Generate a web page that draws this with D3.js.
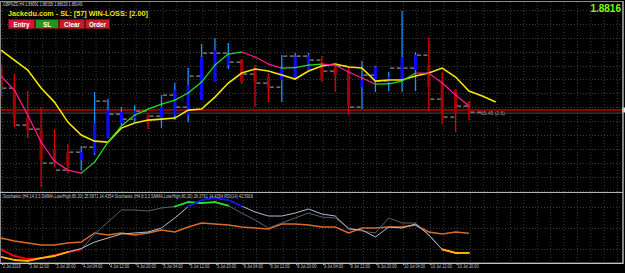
<!doctype html>
<html>
<head>
<meta charset="utf-8">
<script src="https://cdn.jsdelivr.net/npm/d3@7"></script>
<style>
  body { margin: 0; background: #000; }
  svg text { font-family: "Liberation Sans", Arial, sans-serif; }
</style>
</head>
<body>
<script>
// GBPNZD H4 candles
var high  = [1.90056,1.89696,1.89084,1.88472,1.87716,1.87176,1.87104,1.89048,1.88796,1.88508,1.8858,1.88256,1.8894,1.89372,1.89912,1.90776,1.90992,1.90812,1.90236,1.9002,1.89732,1.9038,1.90452,1.90452,1.90344,1.9002,1.89948,1.90164,1.89984,1.89768,1.91964,1.90488,1.91028,1.89768,1.89156,1.88724];
var low   = [1.88868,1.87788,1.87392,1.85628,1.86348,1.86132,1.8624,1.8678,1.87392,1.8786,1.87968,1.87716,1.87752,1.8804,1.87968,1.8876,1.89408,1.89876,1.89336,1.88508,1.88688,1.88688,1.8948,1.8984,1.89408,1.89048,1.8822,1.88436,1.89048,1.89084,1.89048,1.89084,1.88364,1.87896,1.87608,1.8804];
var open  = [1.89984,1.8912,1.88112,1.8768,1.8696,1.86888,1.866,1.86852,1.87428,1.87932,1.88112,1.8822,1.88112,1.8822,1.8822,1.8876,1.89408,1.9002,1.902,1.89912,1.89624,1.8948,1.89552,1.8984,1.90128,1.89948,1.8984,1.89228,1.89408,1.89408,1.8948,1.8984,1.9002,1.8948,1.8912,1.88688];
var close = [1.89192,1.88112,1.8768,1.866,1.86492,1.86384,1.86888,1.87932,1.884,1.88328,1.88364,1.87896,1.88508,1.8912,1.893,1.90308,1.9056,1.9038,1.89408,1.89372,1.89192,1.89912,1.90308,1.9038,1.8948,1.8966,1.8858,1.8948,1.89948,1.89588,1.90308,1.9038,1.89228,1.88292,1.88292,1.88292];
// gray "- -" marks to the right of each bar
var marks = [1.89192,1.8786,1.87716,1.86492,1.8624,1.86888,1.87068,1.88724,1.88256,1.88076,1.88364,1.88184,1.8894,1.88508,1.89624,1.90452,1.90452,1.90128,1.89696,1.89372,1.89228,1.90344,1.90344,1.902,1.89804,1.89984,1.88508,1.8966,1.89444,1.89912,1.89912,1.9038,1.88796,1.88148,1.88544,1.88328];
// moving averages (yellow one is shifted forward 2 bars)
var maSlow = [1.9056,1.902,1.8984,1.89192,1.88688,1.87968,1.875,1.87284,1.87248,1.87752,1.87932,1.8804,1.88076,1.88112,1.884,1.88436,1.88868,1.89372,1.89732,1.89876,1.89804,1.8966,1.89516,1.89804,1.89984,1.90056,1.89948,1.89912,1.89444,1.8948,1.8948,1.89624,1.89732,1.89912,1.89588,1.89084,1.88904,1.88688];
var maFast = [1.89624,1.8912,1.8822,1.87248,1.86564,1.8624,1.86132,1.86528,1.87248,1.87824,1.8822,1.88436,1.88616,1.8876,1.89012,1.89408,1.9002,1.90416,1.90488,1.90308,1.90056,1.89912,1.8993,1.9002,1.90056,1.9002,1.89768,1.89552,1.89336,1.89343,1.89444,1.89732,1.89725,1.89372,1.8894,1.88544];
var slLevel = 1.884;
var bidLevel = 1.88292;

// lower window
var rsi    = [35.7,31.4,28.6,25.7,25.7,28.6,30.0,42.9,40.0,42.9,40.0,42.9,47.1,44.3,51.4,57.1,55.7,54.3,51.4,50.0,48.6,55.7,55.7,54.3,51.4,51.4,42.9,50.0,50.0,51.4,51.4,54.3,44.3,41.4,44.3,42.6];
var stochA = [19.3,10.0,5.7,7.1,11.4,15.7,19.3,41.4,58.6,75.7,75.7,74.3,78.6,80.7,87.1,85.7,87.1,81.9,71.4,61.4,50.0,57.1,64.3,71.4,65.7,64.3,50.0,45.7,42.9,64.3,57.1,57.1,40.0,19.3,14.3,14.4];
var stochB = [8.6,4.3,2.9,7.1,10.0,15.7,20.7,30.0,35.7,41.4,42.9,44.3,50.0,64.3,80.7,90.0,92.9,90.0,81.4,72.9,67.1,67.1,71.4,77.1,70.0,67.1,48.6,47.1,37.1,51.4,50.0,55.7,40.0,19.3,14.3,14.4];
var levels = [20, 50, 80];

var timeLabels = ["2 Jul 2019","3 Jul 12:00","3 Jul 20:00","4 Jul 04:00","4 Jul 12:00","4 Jul 20:00","5 Jul 04:00","5 Jul 12:00","5 Jul 20:00","8 Jul 04:00","8 Jul 12:00","8 Jul 20:00","9 Jul 04:00","9 Jul 12:00","9 Jul 20:00","10 Jul 04:00","10 Jul 12:00","10 Jul 20:00"];
var buttons = ["Entry", "SL", "Clear", "Order"];

var W = 625, H = 273;
var svg = d3.select("body").append("svg").attr("width", W).attr("height", H)
    .style("background", "#000");

var x = d3.scaleLinear().domain([0, 46]).range([1, 1 + 13.37 * 46]);
var y = d3.scaleLinear().domain([1.85, 1.92]).range([204.6, 10]);
var sy = d3.scaleLinear().domain([0, 100]).range([263, 193]);

svg.append("clipPath").attr("id", "mainClip").append("rect")
    .attr("x", 0).attr("y", 2).attr("width", 623).attr("height", 189);

var grid = svg.append("g").attr("stroke", "#3a3a3a").attr("stroke-dasharray", "1,2");
// vertical grid
grid.selectAll("line.v").data(d3.range(0, 47)).enter().append("line")
    .attr("x1", function(k) { return x(k) + 1.5; }).attr("x2", function(k) { return x(k) + 1.5; })
    .attr("y1", 2).attr("y2", 263);
// horizontal grid, main window
grid.selectAll("line.h").data(d3.range(1.855, 1.9201, 0.005)).enter().append("line")
    .attr("x1", 1).attr("x2", 622)
    .attr("y1", function(p) { return Math.round(y(p)) + 0.5; })
    .attr("y2", function(p) { return Math.round(y(p)) + 0.5; });
// stochastic levels
grid.selectAll("line.l").data(levels).enter().append("line")
    .attr("x1", 1).attr("x2", 622)
    .attr("y1", function(v) { return Math.round(sy(v)) + 0.5; })
    .attr("y2", function(v) { return Math.round(sy(v)) + 0.5; });

var main = svg.append("g").attr("clip-path", "url(#mainClip)");

// bid line and SL line
main.append("line").attr("x1", 0).attr("x2", 623)
    .attr("y1", y(bidLevel)).attr("y2", y(bidLevel))
    .attr("stroke", "#4a4a4a").attr("stroke-width", 1);
main.append("line").attr("x1", 0).attr("x2", 623)
    .attr("y1", y(slLevel)).attr("y2", y(slLevel))
    .attr("stroke", "#c00000").attr("stroke-width", 1.5);

var bars = d3.range(high.length);
function isUp(i) { return close[i] >= open[i]; }

main.selectAll("line.wick").data(bars).enter().append("line")
    .attr("x1", function(i) { return x(i); }).attr("x2", function(i) { return x(i); })
    .attr("y1", function(i) { return y(high[i]); }).attr("y2", function(i) { return y(low[i]); })
    .attr("stroke", function(i) { return isUp(i) ? "#1e90ff" : "#e00000"; })
    .attr("stroke-width", 1.3);

main.selectAll("rect.body").data(bars).enter().append("rect")
    .attr("x", function(i) { return x(i) - 1.6; }).attr("width", 3.2)
    .attr("y", function(i) { return y(Math.max(open[i], close[i])); })
    .attr("height", function(i) { return Math.max(1, Math.abs(y(open[i]) - y(close[i]))); })
    .attr("fill", function(i) { return isUp(i) ? "#0a0aff" : "#a00000"; });

main.selectAll("line.mark").data(bars).enter().append("line")
    .attr("x1", function(i) { return x(i) + 1.5; }).attr("x2", function(i) { return x(i) + 12; })
    .attr("y1", function(i) { return y(marks[i]); }).attr("y2", function(i) { return y(marks[i]); })
    .attr("stroke", "#8c8c8c").attr("stroke-width", 1.3).attr("stroke-dasharray", "4,2.5");

// yellow MA
var lineP = d3.line().x(function(d, i) { return x(i); }).y(function(d) { return y(d); });
main.append("path").datum(maSlow).attr("d", lineP)
    .attr("fill", "none").attr("stroke", "#f2e600").attr("stroke-width", 1.6);

// fast MA, green when rising, pink when falling
main.selectAll("line.fast").data(d3.range(maFast.length - 1)).enter().append("line")
    .attr("x1", function(i) { return x(i); }).attr("x2", function(i) { return x(i + 1); })
    .attr("y1", function(i) { return y(maFast[i]); }).attr("y2", function(i) { return y(maFast[i + 1]); })
    .attr("stroke", function(i) { return maFast[i + 1] >= maFast[i] ? "#22dd22" : "#ff1a8c"; })
    .attr("stroke-width", 1.25).attr("stroke-linecap", "round");

// red line label
svg.append("text").attr("x", 479).attr("y", 114.5).attr("font-size", 4.6)
    .attr("fill", "#9a9a9a").attr("textLength", 26).attr("lengthAdjust", "spacingAndGlyphs")
    .text("-65.45 (2.5)");
svg.append("rect").attr("x", 622).attr("y", 107.5).attr("width", 3).attr("height", 5).attr("fill", "#e8e8e8");

// lower window lines
var lineS = d3.line().x(function(d, i) { return x(i); }).y(function(d) { return sy(d); });
var low2 = svg.append("g");

function stochLine(vals, base, hiCol, loCol) {
  low2.append("path").datum(vals).attr("d", lineS)
      .attr("fill", "none").attr("stroke", base).attr("stroke-width", 1);
  low2.selectAll(null).data(d3.range(vals.length - 1)).enter().append("line")
      .filter(function(i) {
        return (vals[i] > 80 && vals[i + 1] > 80) || (vals[i] < 20 && vals[i + 1] < 20);
      })
      .attr("x1", function(i) { return x(i); }).attr("x2", function(i) { return x(i + 1); })
      .attr("y1", function(i) { return sy(vals[i]); }).attr("y2", function(i) { return sy(vals[i + 1]); })
      .attr("stroke", function(i) { return vals[i] > 80 ? hiCol : loCol; })
      .attr("stroke-width", 1.8).attr("stroke-linecap", "round");
}

low2.append("path").datum(rsi).attr("d", lineS)
    .attr("fill", "none").attr("stroke", "#d86a2a").attr("stroke-width", 1.5);
stochLine(stochA, "#56636f", "#1ee61e", "#ff0000");
stochLine(stochB, "#aebfd0", "#1010ff", "#ffb400");

// frames
svg.append("rect").attr("x", 0.5).attr("y", 1.5).attr("width", 622.5).attr("height", 261.5)
    .attr("fill", "none").attr("stroke", "#8a8a8a");
svg.append("line").attr("x1", 0).attr("x2", 623).attr("y1", 192.5).attr("y2", 192.5)
    .attr("stroke", "#b4b4b4");
svg.append("line").attr("x1", 623).attr("x2", 623).attr("y1", 1).attr("y2", 263.5)
    .attr("stroke", "#c4c4c4");
svg.append("line").attr("x1", 0).attr("x2", 623.5).attr("y1", 263.5).attr("y2", 263.5)
    .attr("stroke", "#c4c4c4");

svg.append("text").attr("x", 3).attr("y", 197.5).attr("font-size", 4.6).attr("fill", "#c8c8c8")
    .attr("textLength", 250).attr("lengthAdjust", "spacingAndGlyphs")
    .text("Stochastic (H4,14,3,3,SMMA,Low/High,80,20) 25.5871 14.4354  Stochastic (H4,8,3,3,SMMA,Low/High,80,20) 26.3761 14.4354  RSI(14) 42.5918");

// time axis
var axis = d3.axisBottom(x)
    .tickValues(d3.range(0, timeLabels.length * 2, 2))
    .tickFormat(function(d) { return timeLabels[d / 2]; })
    .tickSize(2).tickSizeOuter(0);
var ax = svg.append("g").attr("transform", "translate(1,263)").call(axis);
ax.select(".domain").remove();
ax.selectAll("line").attr("stroke", "#c0c0c0");
ax.selectAll("text")
    .attr("fill", "#c8c8c8").attr("font-size", 4.6).attr("font-family", "Liberation Sans, Arial, sans-serif")
    .attr("text-anchor", "start").attr("x", 0.5).attr("y", 2.2).attr("dy", "0.71em")
    .attr("textLength", function() { return this.textContent.length * 1.75; })
    .attr("lengthAdjust", "spacingAndGlyphs");

// header
svg.append("text").attr("x", 3).attr("y", 6).attr("font-size", 4.6).attr("fill", "#d0d0d0")
    .attr("textLength", 79).attr("lengthAdjust", "spacingAndGlyphs")
    .text("GBPNZD,H4  1.88091 1.88159 1.88029 1.88149");
svg.append("text").attr("x", 8).attr("y", 15.8).attr("font-size", 8).attr("font-weight", "bold")
    .attr("fill", "#f2e600").attr("textLength", 140).attr("lengthAdjust", "spacingAndGlyphs")
    .text("Jackedu.com - SL: [57] WIN-LOSS: [2.00]");

var bx = [8, 35, 59, 85, 110];
var bcol = ["#dc143c", "#1c9a1c", "#c0202a", "#c0202a"];
var btn = svg.selectAll("g.btn").data(buttons).enter().append("g");
btn.append("rect")
    .attr("x", function(d, i) { return bx[i] + 0.5; }).attr("y", 19.5)
    .attr("width", function(d, i) { return bx[i + 1] - bx[i] - 1; }).attr("height", 9)
    .attr("fill", function(d, i) { return bcol[i]; })
    .attr("stroke", "#7a1010").attr("stroke-width", 0.8);
btn.append("text")
    .attr("x", function(d, i) { return (bx[i] + bx[i + 1]) / 2; }).attr("y", 26.6)
    .attr("text-anchor", "middle").attr("font-size", 6.3).attr("font-weight", "bold")
    .attr("fill", "#ffffff").text(function(d) { return d; });

svg.append("text").attr("x", 621).attr("y", 11.8).attr("text-anchor", "end")
    .attr("font-size", 10).attr("font-weight", "bold").attr("fill", "#7cfc00").text("1.8816");
</script>
</body>
</html>
